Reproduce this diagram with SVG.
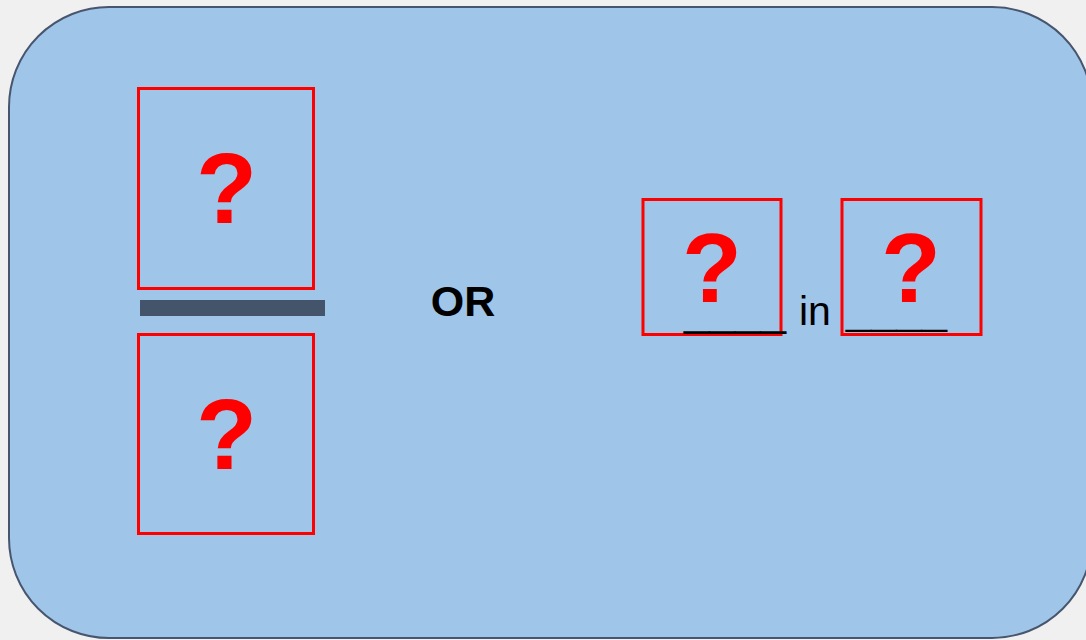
<svg xmlns="http://www.w3.org/2000/svg" width="1086" height="640" viewBox="0 0 1086 640">
  <style>
    .panel { fill: #9fc5e8; stroke: #47566e; stroke-width: 2; }
    .slot { fill: none; stroke: #ff0000; stroke-width: 3; }
    .q { font-family: "Liberation Sans", Arial, sans-serif; font-weight: bold; fill: #ff0000; text-anchor: middle; }
    .txt { font-family: "Liberation Sans", Arial, sans-serif; fill: #000000; }
  </style>
  <rect x="0" y="0" width="1086" height="640" fill="#f0f0f0"/>
  <!-- background panel -->
  <rect id="panel" class="panel" x="9" y="7" width="1083" height="631" rx="100" ry="100"/>

  <!-- fraction form: numerator over denominator -->
  <g id="numerator">
    <rect class="slot" x="138.5" y="88.5" width="175" height="200"/>
    <text class="q" x="226.5" y="223" font-size="100">?</text>
  </g>
  <g id="fraction-bar">
    <rect x="140" y="300" width="185" height="16" fill="#44546a"/>
  </g>
  <g id="denominator">
    <rect class="slot" x="138.5" y="334.5" width="175" height="199"/>
    <text class="q" x="226.5" y="469" font-size="100">?</text>
  </g>

  <g id="or-label">
    <text class="txt" x="463" y="316" font-size="43" font-weight="bold" text-anchor="middle">OR</text>
  </g>

  <!-- "__ in __" form -->
  <g id="part">
    <rect class="slot" x="643" y="199.5" width="138" height="135"/>
    <text class="q" x="712" y="302" font-size="98">?</text>
  </g>
  <g id="whole">
    <rect class="slot" x="842" y="199.5" width="139" height="135"/>
    <text class="q" x="911" y="302" font-size="98">?</text>
  </g>
  <g id="in-label">
    <text class="txt" x="684" y="326" font-size="42" textLength="102" lengthAdjust="spacingAndGlyphs">____</text>
    <text class="txt" x="799" y="325" font-size="41">in</text>
    <text class="txt" x="846" y="325" font-size="36" textLength="101" lengthAdjust="spacingAndGlyphs">____</text>
  </g>
</svg>
